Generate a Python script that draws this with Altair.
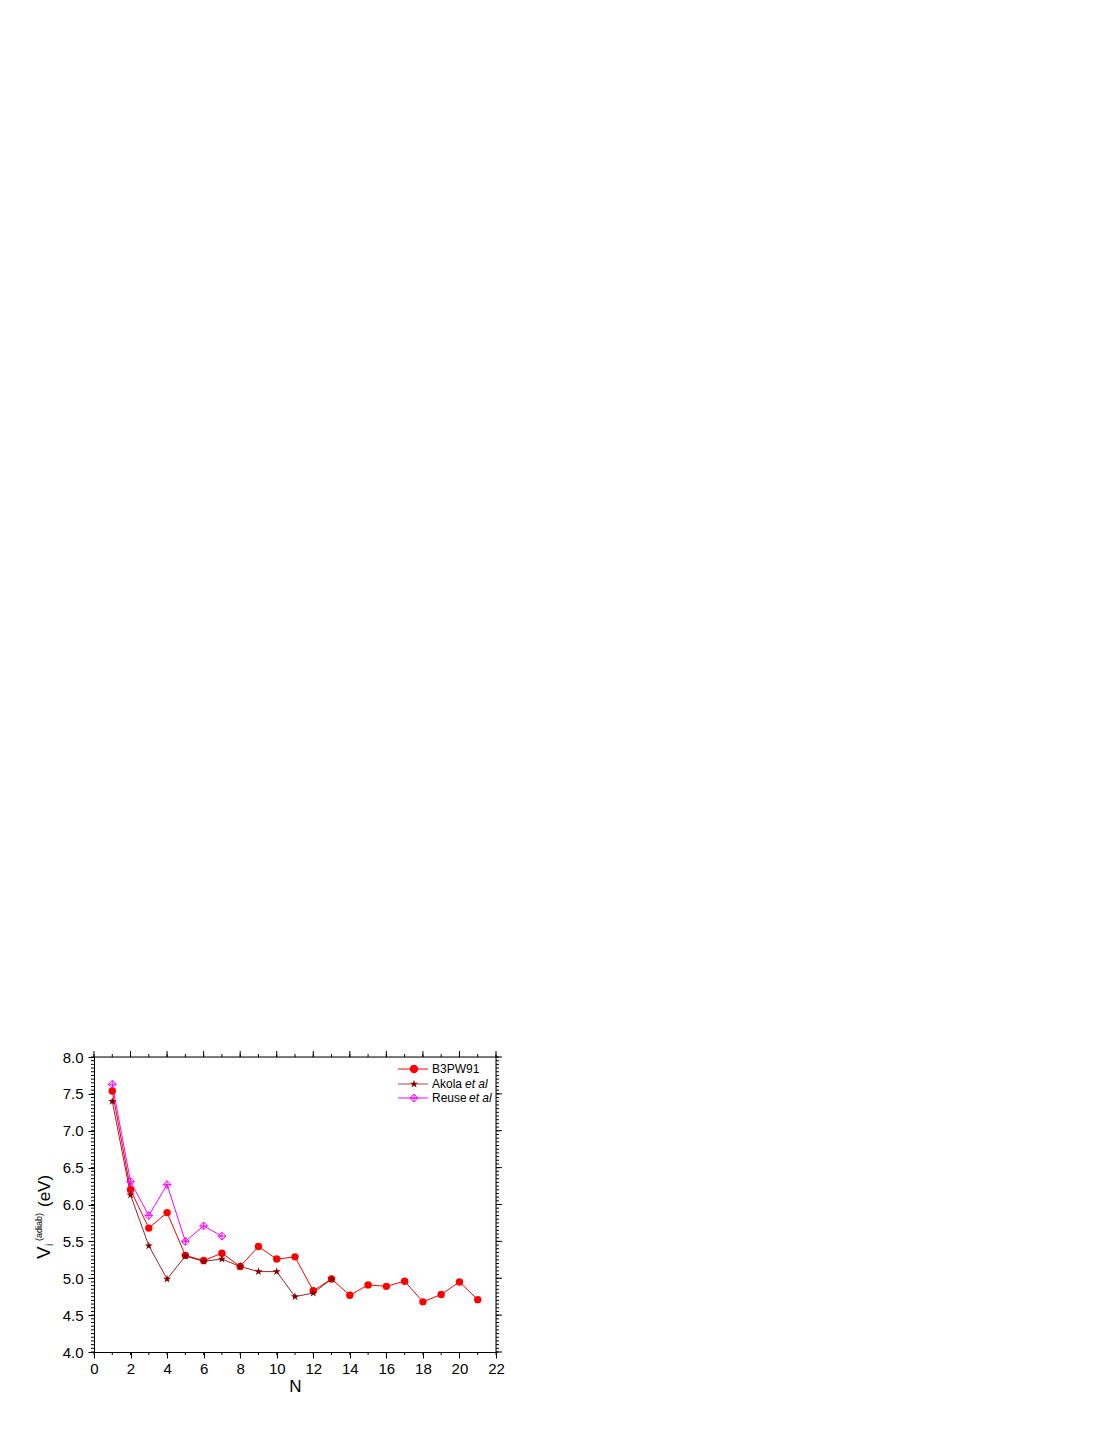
import altair as alt
import pandas as pd

# ---------------- data ----------------
N_b3 = [1, 2, 3, 4, 5, 6, 7, 8, 9, 10, 11, 12, 13, 14, 15, 16, 17, 18, 19, 20, 21]
V_b3 = [7.54, 6.20, 5.68, 5.89, 5.31, 5.24, 5.34, 5.16, 5.43, 5.26, 5.29, 4.83,
        4.99, 4.77, 4.91, 4.89, 4.96, 4.68, 4.78, 4.95, 4.71]
N_ak = [1, 2, 3, 4, 5, 6, 7, 8, 9, 10, 11, 12, 13]
V_ak = [7.40, 6.13, 5.44, 4.99, 5.30, 5.23, 5.26, 5.16, 5.09, 5.09, 4.75, 4.80, 4.99]
N_re = [1, 2, 3, 4, 5, 6, 7]
V_re = [7.63, 6.31, 5.85, 6.27, 5.50, 5.71, 5.57]

x_major = [0, 2, 4, 6, 8, 10, 12, 14, 16, 18, 20, 22]
x_minor = list(range(0, 23))
y_major = [4.0, 4.5, 5.0, 5.5, 6.0, 6.5, 7.0, 7.5, 8.0]
y_minor = [round(4 + 0.05 * i, 2) for i in range(81)]

df_b3 = pd.DataFrame({"N": N_b3, "V": V_b3})
df_ak = pd.DataFrame({"N": N_ak, "V": V_ak})
df_re = pd.DataFrame({"N": N_re, "V": V_re})

FONT = "Liberation Sans"
RED = "#FF0000"
DARK = "#800000"
MAG = "#FF00FF"
DIAMOND_PLUS = "M0,-1L1,0L0,1L-1,0Z M0,-1L0,1 M-1,0L1,0"
STAR = ("M0,-1L0.2245,-0.309L0.951,-0.309L0.363,0.118L0.588,0.809L0,0.382"
        "L-0.588,0.809L-0.363,0.118L-0.951,-0.309L-0.2245,-0.309Z")
W, H = 402, 295

xs = alt.Scale(domain=[0, 22], nice=False, zero=False)
ys = alt.Scale(domain=[4, 8], nice=False, zero=False)

common = dict(grid=False, domainColor="black", tickColor="black", domainWidth=1,
              tickWidth=1, labelFont=FONT, titleFont=FONT, labelColor="black",
              titleColor="black", labelFlush=False, labelOverlap=False)

X_AXIS = alt.Axis(orient="bottom", values=x_major, tickSize=6, labelFontSize=15,
                  labelPadding=3, format="d", title="N", titleFontSize=17,
                  titleFontWeight="normal", titlePadding=2, **common)
Y_AXIS = alt.Axis(orient="left", values=y_major, tickSize=6, labelFontSize=15,
                  labelPadding=5, format=".1f", title=None, **common)


def X(field):
    return alt.X(field, scale=xs, axis=X_AXIS)


def Y(field):
    return alt.Y(field, scale=ys, axis=Y_AXIS)


# extra ticks drawn from the tick-value lists through the scales
df_xmaj = pd.DataFrame({"N": x_major})
df_xmin = pd.DataFrame({"N": x_minor})
df_ymaj = pd.DataFrame({"V": y_major})
df_ymin = pd.DataFrame({"V": y_minor})


def xticks(df, y0, y1):
    return alt.Chart(df).mark_rule(color="black", strokeWidth=1).encode(
        x=X("N:Q"), y=alt.value(y0), y2=alt.value(y1))


def yticks(df, x0, x1):
    return alt.Chart(df).mark_rule(color="black", strokeWidth=1).encode(
        y=Y("V:Q"), x=alt.value(x0), x2=alt.value(x1))


tick_layers = [
    xticks(df_xmin, H, H + 3),      # bottom minor
    xticks(df_xmin, 0, -3),         # top minor
    xticks(df_xmaj, 0, -6),         # top major
    yticks(df_ymin, 0, -3),         # left minor
    yticks(df_ymin, W, W + 3),      # right minor
    yticks(df_ymaj, W, W + 6),      # right major
]

frame_df = pd.DataFrame({"f": [0]})
frame_top = alt.Chart(frame_df).mark_rule(color="black", strokeWidth=1).encode(
    x=alt.value(0), x2=alt.value(W), y=alt.value(0))
frame_right = alt.Chart(frame_df).mark_rule(color="black", strokeWidth=1).encode(
    x=alt.value(W), y=alt.value(0), y2=alt.value(H))


def enc(ch):
    return ch.encode(x=X("N:Q"), y=Y("V:Q"))


line_b3 = enc(alt.Chart(df_b3).mark_line(color=RED, strokeWidth=1))
pts_b3 = enc(alt.Chart(df_b3).mark_point(shape="circle", filled=True, color=RED, size=55, opacity=1))
line_ak = enc(alt.Chart(df_ak).mark_line(color=DARK, strokeWidth=1, opacity=0.85))
pts_ak = enc(alt.Chart(df_ak).mark_point(shape=STAR, filled=True, color=DARK, size=75, opacity=1))
line_re = enc(alt.Chart(df_re).mark_line(color=MAG, strokeWidth=1))
pts_re = enc(alt.Chart(df_re).mark_point(shape=DIAMOND_PLUS, filled=False, color=MAG,
                                         size=60, strokeWidth=1, opacity=1))

# ---------------- legend ----------------
leg_names = ["B3PW91", "Akola ", "Reuse "]
leg_colors = [RED, DARK, MAG]
leg_shapes = ["circle", STAR, DIAMOND_PLUS]
leg_filled = [True, True, False]
leg_sizes = [70, 75, 60]
leg_rows = [12, 27, 41]
leg_italic_x = [None, 371, 375]

legend_layers = []
for i, name in enumerate(leg_names):
    d = pd.DataFrame({"label": [name]})
    yv = leg_rows[i]
    legend_layers.append(
        alt.Chart(d).mark_rule(color=leg_colors[i], strokeWidth=1.3 if i == 1 else 1,
                               opacity=0.55 if i == 1 else 1).encode(
            x=alt.value(304), x2=alt.value(334), y=alt.value(yv))
    )
    legend_layers.append(
        alt.Chart(d).mark_point(shape=leg_shapes[i], filled=leg_filled[i], color=leg_colors[i],
                                size=leg_sizes[i], opacity=1, strokeWidth=1).encode(
            x=alt.value(320), y=alt.value(yv))
    )
    legend_layers.append(
        alt.Chart(d).mark_text(align="left", baseline="middle", font=FONT, fontSize=12,
                               color="black").encode(
            x=alt.value(338), y=alt.value(yv), text="label:N")
    )
    if leg_italic_x[i] is not None:
        d2 = pd.DataFrame({"label": ["et al"]})
        legend_layers.append(
            alt.Chart(d2).mark_text(align="left", baseline="middle", font=FONT, fontSize=12,
                                    fontStyle="italic", color="black").encode(
                x=alt.value(leg_italic_x[i]), y=alt.value(yv), text="label:N")
        )

# ---------------- y-axis title (V_i^(adiab) (eV)) ----------------
title_parts = ["V", "i", "(adiab)", "(eV)"]
title_sizes = [19, 10, 9, 17]
title_x = [-44, -41, -52, -44]
title_y = [202, 189, 184, 150]
title_layers = []
for t, fs, xv, yv in zip(title_parts, title_sizes, title_x, title_y):
    d = pd.DataFrame({"t": [t]})
    title_layers.append(
        alt.Chart(d).mark_text(align="left", baseline="alphabetic", angle=270, font=FONT,
                               fontSize=fs, color="black").encode(
            x=alt.value(xv), y=alt.value(yv), text="t:N")
    )

chart = alt.layer(
    *tick_layers, frame_top, frame_right,
    line_b3, line_ak, line_re, pts_b3, pts_ak, pts_re,
    *legend_layers, *title_layers,
).properties(
    width=W, height=H,
    autosize=alt.AutoSizeParams(type="none"),
    padding={"left": 86, "top": 1049, "right": 20, "bottom": 62},
).configure_view(stroke=None).configure(background="white")

chart.save("out.html", embed_options={"renderer": "svg", "actions": False})
